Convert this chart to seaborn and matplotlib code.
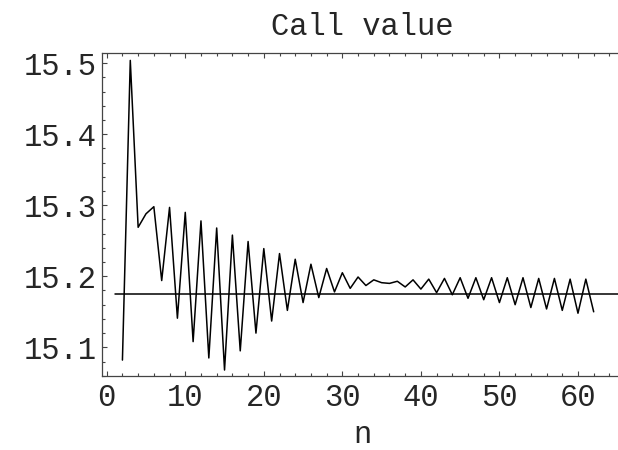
import numpy as np
import pandas as pd
import seaborn as sns
import matplotlib.pyplot as plt
from matplotlib.ticker import MultipleLocator

# valores
n_values = list(range(2, 63))
call_values = [
    15.082, 15.504, 15.269, 15.288, 15.298, 15.194, 15.297, 15.141, 15.290, 15.108,
    15.278, 15.085, 15.268, 15.068, 15.258, 15.095, 15.249, 15.120, 15.239, 15.137,
    15.232, 15.152, 15.224, 15.163, 15.217, 15.170, 15.211, 15.178, 15.205, 15.183,
    15.199, 15.187, 15.195, 15.191, 15.190, 15.193, 15.185, 15.195, 15.182, 15.196,
    15.177, 15.197, 15.174, 15.198, 15.169, 15.198, 15.167, 15.198, 15.163, 15.198,
    15.160, 15.198, 15.156, 15.197, 15.154, 15.197, 15.152, 15.196, 15.148, 15.196,
    15.150,
]
ref_value = 15.1746
ref_span = [1, 66]

x_ticks = [0, 10, 20, 30, 40, 50, 60]
y_ticks = [15.1, 15.2, 15.3, 15.4, 15.5]

sns.set_style("ticks")
plt.rcParams['font.family'] = ['Liberation Mono', 'DejaVu Sans Mono']

fig = plt.figure(figsize=(6.18, 4.5), dpi=100)
ax = fig.add_axes([102.4 / 618, 1 - 376 / 450, (622 - 102.4) / 618, (376 - 53.3) / 450])

df = pd.DataFrame({'n': n_values, 'valor': call_values})
sns.lineplot(data=df, x='n', y='valor', ax=ax, color='black', linewidth=1.1)
ref_df = pd.DataFrame({'n': ref_span, 'valor': [ref_value] * len(ref_span)})
sns.lineplot(data=ref_df, x='n', y='valor', ax=ax, color='black', linewidth=1.1)

ax.set_xlim(-0.55, (622 - 107) / 7.85)
ax.set_ylim(15.0596, 15.514)

ax.set_xticks(x_ticks)
ax.set_yticks(y_ticks)
ax.set_yticklabels([f'{v:.1f}' for v in y_ticks])
ax.xaxis.set_minor_locator(MultipleLocator(2))
ax.yaxis.set_minor_locator(MultipleLocator(0.02))
ax.tick_params(which='both', direction='in', top=True, right=False, labelsize=22,
               color='#444444', width=0.8)
ax.tick_params(which='major', length=3.5)
ax.tick_params(which='minor', length=2)
ax.tick_params(axis='x', pad=5)
ax.tick_params(axis='y', pad=4)

for s in ax.spines.values():
    s.set_linewidth(0.9)
    s.set_color('#444444')
ax.spines['right'].set_visible(False)

ax.set_title('Call value', fontsize=22, pad=13)
ax.set_xlabel('n', fontsize=22, labelpad=5)
ax.set_ylabel('')

fig.savefig('out.png', dpi=100)
